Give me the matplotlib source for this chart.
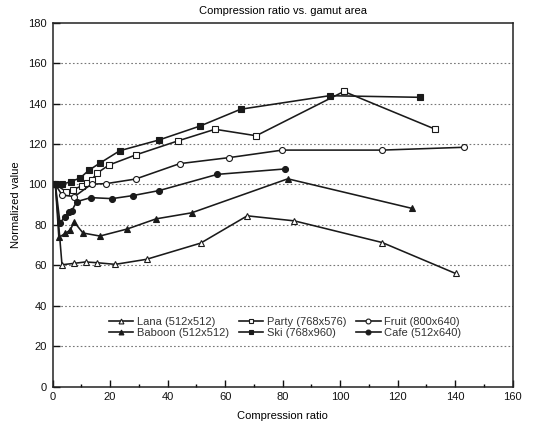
import matplotlib
matplotlib.use("Agg")
import matplotlib.pyplot as plt
from matplotlib.ticker import MultipleLocator

plt.rcParams['font.family'] = ['Liberation Sans', 'DejaVu Sans']

# ---- data ----
lana_x = [1, 3.3, 7.5, 11.5, 15.6, 21.8, 32.7, 51.5, 67.7, 84.1, 114.6, 140.1]
lana_y = [100, 60.3, 61, 61.7, 61.3, 60.5, 63, 71, 84.5, 82, 71.3, 56]

baboon_x = [1, 2.2, 4.4, 6.2, 7.5, 10.6, 16.5, 26, 36, 48.4, 81.8, 124.9]
baboon_y = [100, 73.8, 75.8, 77.5, 81.5, 76, 74.5, 78, 83, 86, 102.8, 88.2]

party_x = [1, 4.8, 7.2, 10.2, 12.0, 13.6, 15.6, 19.6, 28.9, 43.5, 56.5, 70.8, 101.3, 133.1]
party_y = [100, 96.5, 97.5, 99.3, 100.6, 102.4, 105.7, 109.6, 114.6, 121.5, 127.3, 124.1, 146, 127.3]

ski_x = [1, 3.2, 6.3, 9.6, 12.6, 16.4, 23.4, 37, 51.3, 65.4, 96.3, 127.8]
ski_y = [100, 100, 101.4, 103.2, 107, 110.5, 116.7, 122, 128.9, 137.2, 143.9, 143.1]

fruit_x = [1, 3.3, 7.6, 13.6, 18.6, 28.9, 44.2, 61.5, 79.9, 114.6, 143.2]
fruit_y = [100, 94.8, 94, 100.2, 100.4, 102.7, 110.3, 113.3, 117, 117, 118.4]

cafe_x = [1, 2.6, 4.3, 5.9, 6.7, 8.4, 13.3, 20.7, 27.9, 37.1, 57.3, 81]
cafe_y = [100, 81, 84, 86.5, 87, 91.5, 93.5, 93, 94.5, 97, 105, 107.7]

labels = ["Lana (512x512)", "Baboon (512x512)", "Party (768x576)",
          "Ski (768x960)", "Fruit (800x640)", "Cafe (512x640)"]

x_ticks = list(range(0, 161, 20))
y_ticks = list(range(0, 181, 20))

# ---- plot ----
fig = plt.figure(figsize=(5.33, 4.25), dpi=100)
ax = fig.add_axes([0.0985, 0.0901, 0.8635, 0.8565])

lc = '#1a1a1a'
common = dict(color=lc, linewidth=1.15, markersize=4.3, markeredgewidth=0.8, markeredgecolor=lc)

ax.plot(lana_x, lana_y, marker='^', markerfacecolor='white', label=labels[0], **common)
ax.plot(baboon_x, baboon_y, marker='^', markerfacecolor=lc, label=labels[1], **common)
ax.plot(party_x, party_y, marker='s', markerfacecolor='white', label=labels[2],
        **{**common, 'markersize': 3.8})
ax.plot(ski_x, ski_y, marker='s', markerfacecolor=lc, label=labels[3],
        **{**common, 'markersize': 3.8})
ax.plot(fruit_x, fruit_y, marker='o', markerfacecolor='white', label=labels[4], **common)
ax.plot(cafe_x, cafe_y, marker='o', markerfacecolor=lc, label=labels[5], **common)

ax.set_xlim(0, 160)
ax.set_ylim(0, 180)
ax.set_xticks(x_ticks)
ax.set_yticks(y_ticks)
ax.xaxis.set_minor_locator(MultipleLocator(10))
ax.tick_params(axis='both', which='major', direction='in', length=5, width=1,
               labelsize=8, pad=4, colors='#111111')
ax.tick_params(axis='x', which='minor', direction='in', length=2.5, width=1)
for s in ax.spines.values():
    s.set_linewidth(1.1)
    s.set_color('#222222')

for yv in y_ticks[1:-1]:
    ax.axhline(yv, color='#777777', linestyle=(0, (1.5, 2)), linewidth=0.8, zorder=0)

ax.set_title("Compression ratio vs. gamut area", fontsize=8, pad=6)
ax.set_xlabel("Compression ratio", fontsize=8, labelpad=6)
ax.set_ylabel("Normalized value", fontsize=8, labelpad=5)

leg = ax.legend(ncol=3, loc='center', bbox_to_anchor=(0.505, 0.163), frameon=False,
                fontsize=8, handlelength=2.2, handletextpad=0.3, columnspacing=0.9,
                labelspacing=0.05, borderpad=0.2)
for h in leg.legend_handles:
    h.set_markersize(3.5)
    h.set_linewidth(1.2)
for t in leg.get_texts():
    t.set_color('#333333')

fig.savefig("out.png", dpi=100)
